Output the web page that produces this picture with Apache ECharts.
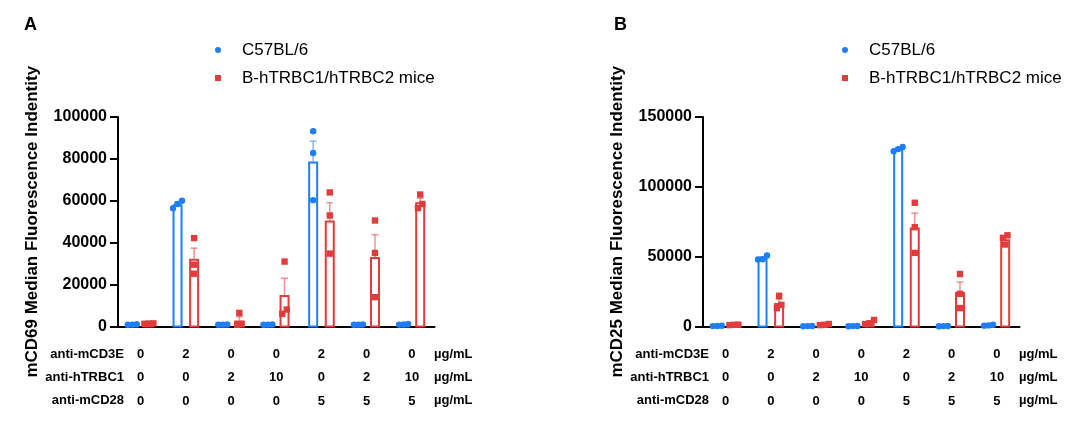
<!DOCTYPE html>
<html><head><meta charset="utf-8">
<script src="https://cdn.jsdelivr.net/npm/echarts@6/dist/echarts.min.js"></script>
<style>html,body{margin:0;padding:0;background:#fff}#c{width:1071px;height:423px}</style>
</head><body><div id="c"></div>
<script>
// ---------- data ----------
const panelLetters = ['A', 'B'];
const yTitles = ['mCD69 Median Fluorescence Indentity', 'mCD25 Median Fluorescence Indentity'];
const seriesNames = ['C57BL/6', 'B-hTRBC1/hTRBC2 mice'];
const conditionRows = ['anti-mCD3E', 'anti-hTRBC1', 'anti-mCD28'];
const antiCD3E = ['0', '2', '0', '0', '2', '0', '0'];
const antiHTRBC1 = ['0', '0', '2', '10', '0', '2', '10'];
const antiCD28 = ['0', '0', '0', '0', '5', '5', '5'];
const unitLabel = 'µg/mL';
const yMaxA = 100000, yStepA = 20000;
const yMaxB = 150000, yStepB = 50000;

// individual mice (3 per condition)
const cd69WT = [[900, 1100, 800], [56500, 58500, 60000], [800, 1000, 900], [900, 800, 1000], [93200, 82800, 60300], [900, 1000, 800], [1000, 1200, 900]];
const cd69Hu = [[1400, 1500, 1300], [42200, 29500, 25200], [6500, 1200, 800], [31000, 8100, 6100], [64000, 53000, 34800], [50600, 35100, 14000], [63000, 58500, 56500]];
const cd25WT = [[400, 500, 300], [50800, 48200, 48000], [300, 400, 200], [300, 200, 400], [128500, 127000, 125500], [300, 400, 200], [800, 1200, 600]];
const cd25Hu = [[1200, 1300, 1000], [22000, 15500, 13200], [1800, 1200, 1000], [4700, 2300, 1800], [88600, 71100, 52700], [37600, 23400, 13200], [65300, 63500, 58700]];

// ---------- styling ----------
const BLUE = '#1f7ef5', RED = '#e03c3c';
const BLUE_ERR = 'rgba(31,126,245,0.55)', RED_ERR = 'rgba(224,60,60,0.55)';
const FONT = 'Arial, "Liberation Sans", sans-serif';
const BAR_W = 10, BAR_GAP_PX = 6.6, OFF = (BAR_W + BAR_GAP_PX) / 2;
const categories = antiCD3E.map((v, i) => v + '/' + antiHTRBC1[i] + '/' + antiCD28[i]);

const mean = a => a.reduce((s, v) => s + v, 0) / a.length;
const sem = a => { const m = mean(a); const sd = Math.sqrt(a.reduce((s, v) => s + (v - m) * (v - m), 0) / (a.length - 1)); return sd / Math.sqrt(a.length); };

// hollow bars drawn through the axis scales
function barSeries(name, groups, g, off, color) {
  return {
    type: 'custom', name, xAxisIndex: g, yAxisIndex: g, z: 2, silent: true,
    data: groups.map((a, i) => [i, mean(a)]),
    renderItem(params, api) {
      const i = api.value(0), m = api.value(1);
      const p0 = api.coord([i, 0]), p1 = api.coord([i, m]);
      const x = p0[0] + off - BAR_W / 2 + 1;
      return { type: 'rect', shape: { x, y: p1[1] + 1, width: BAR_W - 2, height: Math.max(0, p0[1] - p1[1] - 1) },
        style: { fill: '#fff', stroke: color, lineWidth: 2 } };
    }
  };
}
function errSeries(name, groups, g, off, color) {
  return {
    type: 'custom', name, xAxisIndex: g, yAxisIndex: g, z: 3, silent: true,
    data: groups.map((a, i) => [i, mean(a), sem(a)]),
    renderItem(params, api) {
      const i = api.value(0), m = api.value(1), s = api.value(2);
      const p0 = api.coord([i, m]), p1 = api.coord([i, m + s]);
      const x = p0[0] + off;
      return { type: 'group', children: [
        { type: 'line', shape: { x1: x, y1: p0[1], x2: x, y2: p1[1] }, style: { stroke: color, lineWidth: 1.5 } },
        { type: 'line', shape: { x1: x - 3.5, y1: p1[1], x2: x + 3.5, y2: p1[1] }, style: { stroke: color, lineWidth: 1.5 } }
      ] };
    }
  };
}
function pointSeries(name, groups, g, off, color, square) {
  const data = [];
  groups.forEach((a, i) => a.forEach((v, j) => data.push([i, v, j])));
  return {
    type: 'custom', name, xAxisIndex: g, yAxisIndex: g, z: 4, silent: true, data,
    renderItem(params, api) {
      const i = api.value(0), j = api.value(2);
      const vals = groups[i];
      const ys = vals.map(v => api.coord([i, v])[1]);
      const order = ys.map((y, k) => k).sort((a, b) => ys[a] - ys[b]);
      const clusters = []; let cur = [order[0]];
      for (let q = 1; q < order.length; q++) {
        if (ys[order[q]] - ys[order[q - 1]] < 6.5) cur.push(order[q]); else { clusters.push(cur); cur = [order[q]]; }
      }
      clusters.push(cur);
      let dx = 0;
      clusters.forEach(c => {
        if (c.indexOf(j) >= 0) {
          const sorted = c.slice().sort((a, b) => vals[a] - vals[b]);
          dx = (sorted.indexOf(j) - (c.length - 1) / 2) * 4.5;
        }
      });
      const p = api.coord([i, api.value(1)]);
      const x = p[0] + off + dx, y = p[1];
      if (square) return { type: 'rect', shape: { x: x - 3.2, y: y - 3.2, width: 6.4, height: 6.4 }, style: { fill: color } };
      return { type: 'circle', shape: { cx: x, cy: y, r: 3.2 }, style: { fill: color } };
    }
  };
}

const GRID_LEFT = [118, 703], GRID_TOP = 117, GRID_W = 316.5, GRID_H = 209.5;
const panels = [
  { wt: cd69WT, hu: cd69Hu, max: yMaxA, step: yStepA },
  { wt: cd25WT, hu: cd25Hu, max: yMaxB, step: yStepB }
];

const grids = [], xAxes = [], yAxes = [], series = [], graphics = [];
panels.forEach((p, g) => {
  grids.push({ left: GRID_LEFT[g], top: GRID_TOP, width: GRID_W, height: GRID_H, containLabel: false });
  xAxes.push({
    type: 'category', gridIndex: g, data: categories,
    axisLine: { lineStyle: { color: '#000', width: 2 } },
    axisTick: { alignWithLabel: true, length: 7, lineStyle: { color: '#000', width: 2 } },
    axisLabel: {
      interval: 0, margin: 16, color: '#000', fontFamily: FONT, fontSize: 13, fontWeight: 'bold', lineHeight: 23.5,
      formatter: (v, idx) => antiCD3E[idx] + '\n' + antiHTRBC1[idx] + '\n' + antiCD28[idx]
    },
    splitLine: { show: false }
  });
  yAxes.push({
    type: 'value', gridIndex: g, min: 0, max: p.max, interval: p.step,
    name: yTitles[g], nameLocation: 'middle', nameGap: 77,
    nameTextStyle: { color: '#000', fontFamily: FONT, fontSize: 17, fontWeight: 'bold' },
    axisLine: { show: true, lineStyle: { color: '#000', width: 2 } },
    axisTick: { show: true, length: 8, lineStyle: { color: '#000', width: 2 } },
    axisLabel: { margin: 11, color: '#000', fontFamily: FONT, fontSize: 16, fontWeight: 'bold', formatter: v => String(v) },
    splitLine: { show: false }
  });
  series.push(barSeries(seriesNames[0], p.wt, g, -OFF, BLUE));
  series.push(barSeries(seriesNames[1], p.hu, g, OFF, RED));
  series.push(errSeries(seriesNames[0], p.wt, g, -OFF, BLUE_ERR));
  series.push(errSeries(seriesNames[1], p.hu, g, OFF, RED_ERR));
  series.push(pointSeries(seriesNames[0], p.wt, g, -OFF, BLUE, false));
  series.push(pointSeries(seriesNames[1], p.hu, g, OFF, RED, true));

  const dxp = GRID_LEFT[g] - GRID_LEFT[0];
  graphics.push({ type: 'text', left: (g === 0 ? 24 : 614), top: 16,
    style: { text: panelLetters[g], fill: '#000', font: 'bold 18px ' + FONT } });
  const rowY = [354, 377, 400];
  conditionRows.forEach((r, k) => {
    graphics.push({ type: 'text', x: 124 + dxp, y: rowY[k],
      style: { text: r, fill: '#000', font: 'bold 13px ' + FONT, align: 'right', verticalAlign: 'middle' } });
    graphics.push({ type: 'text', x: 434 + dxp, y: rowY[k],
      style: { text: unitLabel, fill: '#000', font: 'bold 13px ' + FONT, align: 'left', verticalAlign: 'middle' } });
  });
});

const legendBase = {
  orient: 'vertical', itemWidth: 38, itemHeight: 6, itemGap: 8, selectedMode: false, symbolKeepAspect: true,
  textStyle: { color: '#000', fontFamily: FONT, fontSize: 17, lineHeight: 20, padding: 0 },
  data: [
    { name: seriesNames[0], icon: 'circle', itemStyle: { color: BLUE, borderWidth: 0 } },
    { name: seriesNames[1], icon: 'path://M0,0H10V10H0Z', itemStyle: { color: RED, borderWidth: 0 } }
  ]
};
const legends = [
  Object.assign({}, legendBase, { left: 210, top: 35 }),
  Object.assign({}, legendBase, { left: 837, top: 35 })
];

const chart = echarts.init(document.getElementById('c'), null, { renderer: 'canvas' });
chart.setOption({
  animation: false,
  backgroundColor: '#fff',
  grid: grids, xAxis: xAxes, yAxis: yAxes, series, legend: legends, graphic: graphics
});
</script></body></html>
